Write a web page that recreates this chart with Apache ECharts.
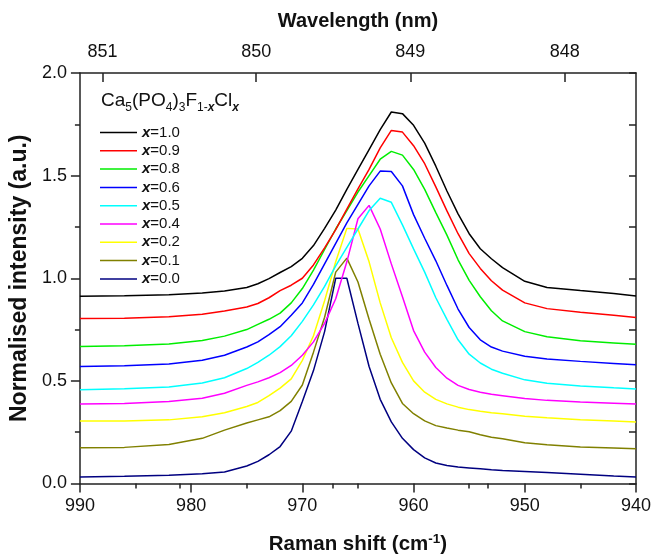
<!DOCTYPE html>
<html><head><meta charset="utf-8">
<script src="https://cdn.jsdelivr.net/npm/echarts@6/dist/echarts.min.js"></script>
<style>html,body{margin:0;padding:0;background:#fff}#c{width:655px;height:560px}</style>
</head><body><div id="c"></div>
<script>
// Raman shift sample positions (cm-1)
const ramanShift = [990, 986, 982, 979, 977, 975, 974, 973, 972, 971, 970, 969, 968, 967, 966, 965, 964, 963, 962, 961, 960, 959, 958, 957, 956, 955, 954, 953, 952, 950, 948, 945, 942, 940];

const seriesNames = ['x=1.0', 'x=0.9', 'x=0.8', 'x=0.6', 'x=0.5', 'x=0.4', 'x=0.2', 'x=0.1', 'x=0.0'];
const seriesColors = ['#000000', '#ff0000', '#00ee00', '#0000ff', '#00ffff', '#ff00ff', '#ffff00', '#808000', '#000080'];

const int_x10 = [0.912, 0.915, 0.920, 0.928, 0.938, 0.955, 0.973, 0.998, 1.028, 1.057, 1.097, 1.159, 1.243, 1.332, 1.433, 1.530, 1.627, 1.724, 1.810, 1.802, 1.745, 1.658, 1.546, 1.425, 1.314, 1.217, 1.144, 1.095, 1.052, 0.985, 0.955, 0.940, 0.926, 0.914];
const int_x09 = [0.804, 0.805, 0.812, 0.825, 0.840, 0.860, 0.877, 0.905, 0.940, 0.966, 1.000, 1.065, 1.148, 1.237, 1.337, 1.435, 1.530, 1.635, 1.720, 1.712, 1.646, 1.558, 1.445, 1.328, 1.217, 1.120, 1.048, 0.988, 0.942, 0.880, 0.852, 0.834, 0.820, 0.809];
const int_x08 = [0.667, 0.671, 0.680, 0.697, 0.718, 0.750, 0.775, 0.800, 0.830, 0.880, 0.950, 1.040, 1.140, 1.240, 1.330, 1.420, 1.500, 1.580, 1.618, 1.600, 1.530, 1.433, 1.320, 1.210, 1.090, 0.990, 0.910, 0.842, 0.792, 0.740, 0.715, 0.695, 0.685, 0.678];
const int_x06 = [0.570, 0.574, 0.582, 0.600, 0.625, 0.665, 0.690, 0.725, 0.764, 0.820, 0.880, 0.970, 1.070, 1.170, 1.270, 1.360, 1.450, 1.522, 1.520, 1.450, 1.310, 1.195, 1.085, 0.965, 0.850, 0.760, 0.700, 0.665, 0.645, 0.620, 0.607, 0.595, 0.585, 0.578];
const int_x05 = [0.457, 0.462, 0.470, 0.490, 0.515, 0.560, 0.590, 0.625, 0.667, 0.720, 0.790, 0.870, 0.960, 1.060, 1.150, 1.240, 1.330, 1.390, 1.370, 1.260, 1.143, 1.030, 0.905, 0.800, 0.700, 0.630, 0.587, 0.557, 0.537, 0.505, 0.488, 0.475, 0.466, 0.461];
const int_x04 = [0.387, 0.390, 0.400, 0.415, 0.440, 0.478, 0.495, 0.515, 0.540, 0.575, 0.625, 0.690, 0.780, 0.900, 1.080, 1.290, 1.355, 1.240, 1.070, 0.910, 0.745, 0.640, 0.565, 0.513, 0.478, 0.458, 0.445, 0.435, 0.428, 0.414, 0.405, 0.397, 0.391, 0.387];
const int_x02 = [0.304, 0.305, 0.310, 0.325, 0.345, 0.375, 0.395, 0.428, 0.465, 0.510, 0.600, 0.720, 0.890, 1.080, 1.243, 1.240, 1.080, 0.880, 0.710, 0.590, 0.500, 0.445, 0.410, 0.388, 0.372, 0.360, 0.352, 0.345, 0.340, 0.328, 0.320, 0.311, 0.305, 0.300];
const int_x01 = [0.174, 0.176, 0.190, 0.220, 0.260, 0.295, 0.310, 0.325, 0.355, 0.400, 0.480, 0.640, 0.810, 1.030, 1.098, 0.982, 0.800, 0.630, 0.490, 0.390, 0.340, 0.305, 0.282, 0.270, 0.260, 0.252, 0.238, 0.225, 0.218, 0.199, 0.189, 0.178, 0.173, 0.169];
const int_x00 = [0.032, 0.035, 0.040, 0.048, 0.056, 0.085, 0.108, 0.140, 0.180, 0.255, 0.400, 0.550, 0.740, 1.000, 1.000, 0.780, 0.570, 0.410, 0.300, 0.220, 0.165, 0.125, 0.100, 0.088, 0.080, 0.076, 0.072, 0.067, 0.063, 0.058, 0.053, 0.045, 0.037, 0.032];
const seriesValues = [int_x10, int_x09, int_x08, int_x06, int_x05, int_x04, int_x02, int_x01, int_x00];

// Axis tick labels
const ramanTicks = [990, 980, 970, 960, 950, 940];
const intensityTicks = [0.0, 0.5, 1.0, 1.5, 2.0];
const wavelengthMajor = [851, 850, 849, 848];
const wavelengthMinor = [850.5, 849.5, 848.5];
const laserNm = 785;

const nmToShift = nm => 1e7 / laserNm - 1e7 / nm;
const shiftToNm = s => 1e7 / (1e7 / laserNm - s);

const FONT = "'Liberation Sans', Arial, Helvetica, sans-serif";
const AX = '#222';

const chart = echarts.init(document.getElementById('c'), null, {renderer: 'canvas'});

const series = seriesNames.map((name, k) => ({
  name: name,
  type: 'line',
  xAxisIndex: 0, yAxisIndex: 0,
  data: ramanShift.map((x, i) => [x, seriesValues[k][i]]),
  symbol: 'none', showSymbol: false, smooth: false,
  lineStyle: {width: 1.5, color: seriesColors[k]},
  itemStyle: {color: seriesColors[k]},
  z: 10 - k
}));

const option = {
  animation: false,
  backgroundColor: '#fff',
  textStyle: {fontFamily: FONT},
  grid: {left: 78, right: 19, top: 73, bottom: 74, containLabel: false},
  title: {
    left: 101, top: 88, padding: 0,
    text: '{m|Ca}{s|5}{m|(PO}{s|4}{m|)}{s|3}{m|F}{s|1-}{si|x}{m|Cl}{si|x}',
    textStyle: {
      fontWeight: 'normal',
      rich: {
        m: {fontSize: 19, fontWeight: 'normal', fontFamily: FONT, color: '#111', lineHeight: 26, verticalAlign: 'middle'},
        s: {fontSize: 12, fontWeight: 'normal', fontFamily: FONT, color: '#111', lineHeight: 12, verticalAlign: 'bottom'},
        si: {fontSize: 12, fontFamily: FONT, color: '#111', lineHeight: 12, verticalAlign: 'bottom', fontStyle: 'italic', fontWeight: 'bold'}
      }
    }
  },
  legend: {
    data: seriesNames,
    orient: 'vertical',
    left: 100, top: 124.5,
    icon: 'rect',
    itemWidth: 37, itemHeight: 1.5,
    itemGap: 2.3,
    padding: 0,
    formatter: name => '{i|x}{n|' + name.slice(1) + '}',
    textStyle: {
      fontSize: 15, lineHeight: 16, color: '#111', fontFamily: FONT,
      rich: {
        i: {fontSize: 15, lineHeight: 16, fontStyle: 'italic', fontWeight: 'bold', fontFamily: FONT, color: '#111'},
        n: {fontSize: 15, lineHeight: 16, fontFamily: FONT, color: '#111'}
      }
    }
  },
  xAxis: [
    {
      type: 'value', position: 'bottom', inverse: true,
      min: ramanTicks[ramanTicks.length - 1], max: ramanTicks[0], interval: 10,
      axisLine: {show: true, onZero: false, lineStyle: {color: AX, width: 1.5}},
      axisTick: {show: true, inside: false, length: 9, lineStyle: {color: AX, width: 1.5}},
      minorTick: {show: true, splitNumber: 2, length: 5, lineStyle: {color: AX, width: 1.5}},
      axisLabel: {fontSize: 18, color: '#111', margin: 14, fontFamily: FONT},
      splitLine: {show: false},
      name: '{b|Raman shift (cm}{sup|-1}{b|)}',
      nameLocation: 'middle', nameGap: 49,
      nameTextStyle: {
        rich: {
          b: {fontSize: 20.5, fontWeight: 'bold', fontFamily: FONT, color: '#111', lineHeight: 24, verticalAlign: 'middle'},
          sup: {fontSize: 13.5, fontWeight: 'bold', fontFamily: FONT, color: '#111', lineHeight: 12, verticalAlign: 'top'}
        }
      }
    },
    {
      type: 'value', position: 'top', inverse: true,
      min: ramanTicks[ramanTicks.length - 1], max: ramanTicks[0],
      axisLine: {show: true, onZero: false, lineStyle: {color: AX, width: 1.5}},
      axisTick: {show: true, inside: true, length: 9, customValues: wavelengthMajor.map(nmToShift), lineStyle: {color: AX, width: 1.5}},
      axisLabel: {show: true, customValues: wavelengthMajor.map(nmToShift), formatter: v => String(Math.round(shiftToNm(v))), fontSize: 18, color: '#111', margin: 12, fontFamily: FONT},
      splitLine: {show: false},
      name: 'Wavelength (nm)',
      nameLocation: 'middle', nameGap: 42,
      nameTextStyle: {fontSize: 20, fontWeight: 'bold', fontFamily: FONT, color: '#111'}
    },
    {
      type: 'value', position: 'top', inverse: true,
      min: ramanTicks[ramanTicks.length - 1], max: ramanTicks[0],
      axisLine: {show: false},
      axisTick: {show: true, inside: true, length: 5, customValues: wavelengthMinor.map(nmToShift), lineStyle: {color: AX, width: 1.5}},
      axisLabel: {show: false},
      splitLine: {show: false}
    }
  ],
  yAxis: [
    {
      type: 'value', position: 'left',
      min: intensityTicks[0], max: intensityTicks[intensityTicks.length - 1], interval: 0.5,
      axisLine: {show: true, onZero: false, lineStyle: {color: AX, width: 1.5}},
      axisTick: {show: true, inside: false, length: 9, lineStyle: {color: AX, width: 1.5}},
      minorTick: {show: true, splitNumber: 2, length: 5, lineStyle: {color: AX, width: 1.5}},
      axisLabel: {fontSize: 18, color: '#111', margin: 13, fontFamily: FONT, formatter: v => v.toFixed(1)},
      splitLine: {show: false},
      name: 'Normalised intensity (a.u.)',
      nameLocation: 'middle', nameGap: 48,
      nameTextStyle: {fontSize: 23, fontWeight: 'bold', fontFamily: FONT, color: '#111'}
    },
    {
      type: 'value', position: 'right',
      min: 0, max: 2, interval: 0.25,
      axisLine: {show: true, onZero: false, lineStyle: {color: AX, width: 1.5}},
      axisTick: {show: true, inside: true, length: 7, lineStyle: {color: AX, width: 1.5}},
      axisLabel: {show: false},
      splitLine: {show: false}
    }
  ],
  series: series
};
chart.setOption(option);
</script>
</body></html>
